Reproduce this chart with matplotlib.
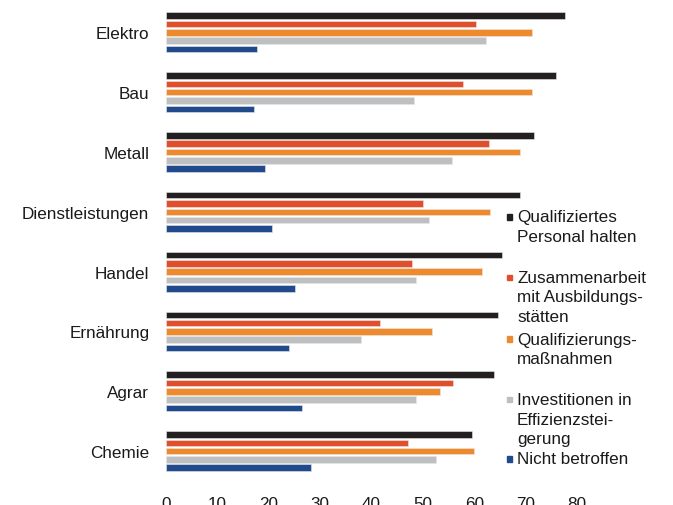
#!/usr/bin/env python3
import numpy as np
import matplotlib.pyplot as plt

plt.rcParams['font.family'] = ['Liberation Sans', 'DejaVu Sans']

# Branchen (von oben nach unten)
branchen = ['Elektro', 'Bau', 'Metall', 'Dienstleistungen',
            'Handel', 'Ernährung', 'Agrar', 'Chemie']

# Werte je Reihe (in %)
personal_halten = [77.6, 75.9, 71.7, 69.0, 65.4, 64.6, 63.9, 59.5]
zusammenarbeit = [60.3, 57.8, 62.8, 50.0, 47.8, 41.7, 55.8, 47.2]
qualifizierung = [71.3, 71.2, 68.9, 63.1, 61.5, 51.8, 53.4, 60.0]
investitionen = [62.2, 48.2, 55.6, 51.1, 48.7, 37.9, 48.7, 52.6]
nicht_betroffen = [17.7, 17.2, 19.2, 20.6, 25.1, 23.9, 26.5, 28.2]

legend_labels = ['Qualifiziertes\nPersonal halten',
                 'Zusammenarbeit\nmit Ausbildungs-\nstätten',
                 'Qualifizierungs-\nmaßnahmen',
                 'Investitionen in\nEffizienzstei-\ngerung',
                 'Nicht betroffen']

xticks = [0, 10, 20, 30, 40, 50, 60, 70, 80]

series = [personal_halten, zusammenarbeit, qualifizierung, investitionen, nicht_betroffen]
colors = ['#231f20', '#e04f2c', '#ee8a2e', '#bebfc1', '#214a8c']
fs = 12.3

fig = plt.figure(figsize=(6.73, 5.06), dpi=100)
ax = fig.add_axes([166 / 673, 1 - 482 / 506, 411 / 673, (482 - 3.4) / 506])

y = np.arange(len(branchen))
pitch = 0.139
height = 0.109
for i, (vals, col) in enumerate(zip(series, colors)):
    offs = (i - 2) * pitch
    ax.barh(y + offs, vals, height=height, color=col,
            edgecolor='#e8e8e8', linewidth=0.4)

ax.set_xlim(0, 80)
ax.set_ylim(len(branchen) - 0.5, -0.5)
ax.set_yticks(y)
ax.set_yticklabels(branchen, fontsize=fs, color='#1a1a1a')
ax.set_xticks(xticks)
ax.set_xticklabels([str(t) for t in xticks], fontsize=fs, color='#1a1a1a')
ax.tick_params(axis='both', length=0)
ax.tick_params(axis='y', pad=12)
ax.tick_params(axis='x', pad=11)
for s in ax.spines.values():
    s.set_visible(False)

# Legende von Hand, wegen der ungleichen Abstaende
leg_y = [218, 278.3, 340, 400.7, 460]
line_h = 19.6
for lab, col, ly in zip(legend_labels, colors, leg_y):
    fy = 1 - ly / 506
    fig.patches.append(plt.Rectangle((507 / 673, fy - 2.6 / 506), 5.2 / 673, 5.2 / 506,
                                     transform=fig.transFigure, color=col))
    for k, part in enumerate(lab.split('\n')):
        fig.text(517 / 673, 1 - (ly + k * line_h) / 506, part, fontsize=fs,
                 va='center', ha='left', color='#1a1a1a')

plt.savefig('out.png', dpi=100)
